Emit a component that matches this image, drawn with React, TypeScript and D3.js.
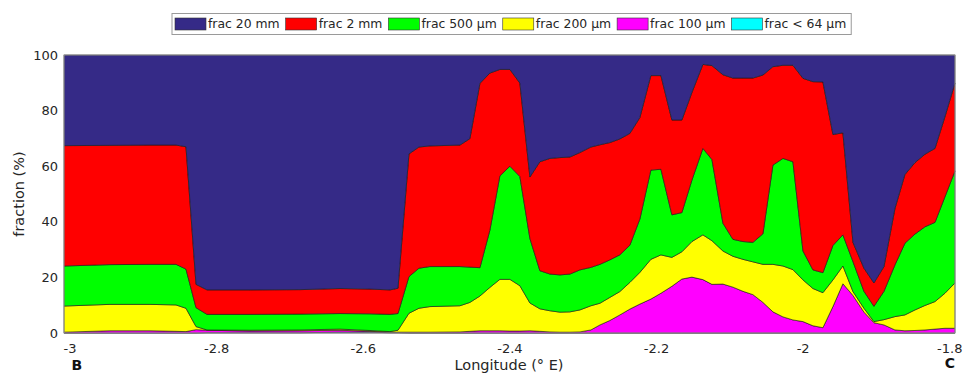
import React, { useEffect, useRef } from 'react';
import * as d3 from 'd3';

// longitude of each sample along the B-C section (deg E)
const longitude = [
  -3.0083, -2.9456, -2.8910, -2.8555, -2.8419, -2.8282, -2.8132, -2.7546, -2.6864, -2.6318,
  -2.5909, -2.5636, -2.5527, -2.5377, -2.5241, -2.5091, -2.4682, -2.4546, -2.4409, -2.4273,
  -2.4137, -2.4000, -2.3864, -2.3727, -2.3591, -2.3454, -2.3318, -2.3182, -2.3045, -2.2895,
  -2.2772, -2.2636, -2.2500, -2.2363, -2.2227, -2.2077, -2.1940, -2.1790, -2.1654, -2.1517,
  -2.1367, -2.1244, -2.1094, -2.0958, -2.0821, -2.0685, -2.0548, -2.0412, -2.0275, -2.0139,
  -2.0002, -1.9866, -1.9730, -1.9593, -1.9457, -1.9320, -1.9170, -1.9034, -1.8897, -1.8747,
  -1.8611, -1.8474, -1.8338, -1.8201, -1.8065, -1.7928
];

// fractions in %
const frac64 = [
  0, 0, 0, 0, 0, 0, 0.1, 0.1, 0.1, 0.3,
  0.3, 0.1, 0.1, 0, 0, 0, 0, 0, 0, 0,
  0, 0, 0, 0, 0, 0, 0, 0, 0, 0,
  0, 0, 0, 0, 0, 0, 0, 0, 0, 0,
  0, 0, 0, 0, 0, 0, 0, 0, 0, 0,
  0, 0, 0, 0, 0, 0, 0, 0, 0, 0,
  0, 0, 0, 0, 0, 0
];
const frac100 = [
  0.3, 0.8, 0.8, 0.6, 0.5, 1.2, 0.9, 0.6, 0.7, 0.7,
  0.3, 0.2, 0.2, 0.3, 0.3, 0.3, 0.4, 0.6, 0.8, 0.8,
  0.8, 0.7, 0.7, 0.8, 0.6, 0.4, 0.3, 0.3, 0.4, 1.1,
  2.9, 4.5, 6.5, 8.6, 10.4, 12.2, 14.3, 16.8, 19.4, 20.1,
  19.2, 17.5, 17.6, 16.5, 15.0, 13.8, 11.0, 7.6, 5.8, 4.7,
  4.1, 2.6, 1.9, 9.5, 17.7, 13.5, 7.5, 3.7, 2.9, 1.1,
  0.8, 0.9, 1.1, 1.4, 1.7, 1.7
];
const frac200 = [
  9.4, 9.5, 9.5, 9.5, 8.4, 1.1, 0.1, 0.3, 0.3, 0.4,
  0.3, 0.2, 0.7, 6.8, 8.6, 9.2, 9.4, 10.4, 12.5, 15.6,
  18.5, 18.6, 16.3, 10.0, 8.1, 7.6, 7.2, 7.3, 7.9, 8.7,
  7.8, 8.3, 8.4, 9.6, 11.4, 14.3, 13.8, 10.4, 9.8, 12.8,
  16.1, 15.7, 11.9, 11.1, 11.5, 11.8, 13.7, 17.1, 18.3, 18.1,
  15.0, 13.4, 12.6, 9.6, 6.4, 1.4, 1.4, 0.4, 1.9, 4.8,
  5.7, 7.4, 8.8, 9.9, 12.6, 16.3
];
const frac500 = [
  14.4, 14.3, 14.4, 14.6, 14.1, 6.8, 5.6, 5.7, 5.7, 5.6,
  6.0, 6.2, 6.0, 13.2, 14.4, 14.4, 14.1, 12.7, 10.2, 20.6,
  37.2, 40.7, 39.3, 23.2, 13.7, 13.2, 13.4, 13.6, 14.4, 13.8,
  14.0, 13.5, 13.2, 13.4, 19.2, 32.1, 30.8, 15.3, 14.1, 22.1,
  31.1, 29.2, 10.0, 6.1, 6.4, 7.0, 11.0, 35.7, 38.7, 38.8,
  10.4, 6.7, 7.2, 12.4, 11.2, 10.8, 6.1, 5.5, 10.2, 18.6,
  25.8, 27.3, 28.3, 28.5, 34.7, 40.3
];
const frac2mm = [
  43.3, 42.9, 42.9, 42.9, 44.0, 8.4, 8.8, 8.8, 8.8, 9.0,
  8.9, 8.8, 9.1, 44.1, 43.6, 43.4, 43.7, 46.2, 66.3, 56.5,
  38.3, 34.8, 33.6, 22.1, 39.2, 41.6, 42.2, 42.1, 42.2, 43.3,
  43.0, 42.2, 41.7, 40.2, 36.5, 34.0, 33.7, 34.1, 33.3, 31.5,
  30.2, 33.8, 53.4, 58.0, 58.8, 59.1, 57.1, 35.4, 33.5, 34.7,
  62.1, 67.7, 68.6, 39.9, 36.7, 6.9, 8.3, 8.4, 8.9, 20.3,
  24.7, 25.7, 26.1, 26.6, 28.8, 31.6
];
const frac20mm = [
  32.6, 32.5, 32.4, 32.4, 33.0, 82.5, 84.5, 84.5, 84.4, 84.0,
  84.2, 84.5, 83.9, 35.6, 33.1, 32.7, 32.4, 30.1, 10.2, 6.5,
  5.2, 5.2, 10.1, 43.9, 38.4, 37.2, 36.9, 36.7, 35.1, 33.1,
  32.3, 31.5, 30.2, 28.2, 22.5, 7.4, 7.4, 23.4, 23.4, 13.5,
  3.4, 3.8, 7.1, 8.3, 8.3, 8.3, 7.2, 4.2, 3.7, 3.7,
  8.4, 9.6, 9.7, 28.6, 28.0, 67.4, 76.7, 82.0, 76.1, 55.2,
  43.0, 38.7, 35.7, 33.6, 22.2, 10.1
];

// stacking order bottom -> top
const seriesKeys = ['f64', 'f100', 'f200', 'f500', 'f2mm', 'f20mm'];
const seriesNames = ['frac < 64 µm', 'frac 100 µm', 'frac 200 µm', 'frac 500 µm', 'frac 2 mm', 'frac 20 mm'];
const seriesColors = ['#00ffff', '#ff00ff', '#ffff00', '#00ff00', '#ff0000', '#352a87'];

const xTicks = [-3, -2.8, -2.6, -2.4, -2.2, -2, -1.8];
const yTicks = [0, 20, 40, 60, 80, 100];

const FONT = '"DejaVu Sans", sans-serif';
const TEXT = '#262626';

export default function App() {
  const svgRef = useRef<SVGSVGElement>(null);
  const width = 965;
  const height = 376;

  useEffect(() => {
    if (!svgRef.current) return;
    const svg = d3.select(svgRef.current);
    svg.selectAll('*').remove();

    const margin = { top: 55, right: 10, bottom: 43, left: 64 };
    const innerW = width - margin.left - margin.right;
    const innerH = height - margin.top - margin.bottom;

    const rows = longitude.map((lon, i) => ({
      lon,
      f64: frac64[i],
      f100: frac100[i],
      f200: frac200[i],
      f500: frac500[i],
      f2mm: frac2mm[i],
      f20mm: frac20mm[i]
    }));

    const x = d3.scaleLinear()
      .domain([longitude[0], longitude[longitude.length - 1]])
      .range([margin.left, margin.left + innerW]);
    const y = d3.scaleLinear()
      .domain([0, 100])
      .range([margin.top + innerH, margin.top]);

    const stacked = d3.stack<any>().keys(seriesKeys)(rows);

    const area = d3.area<any>()
      .x(d => x(d.data.lon))
      .y0(d => y(d[0]))
      .y1(d => y(d[1]));

    const plot = svg.append('g');
    plot.selectAll('path.layer')
      .data(stacked)
      .enter().append('path')
      .attr('class', 'layer')
      .attr('d', area)
      .attr('fill', (d, i) => seriesColors[i])
      .attr('stroke', '#1a1a1a')
      .attr('stroke-width', 0.6)
      .attr('stroke-linejoin', 'round');

    // axes box
    svg.append('rect')
      .attr('x', margin.left)
      .attr('y', margin.top)
      .attr('width', innerW)
      .attr('height', innerH)
      .attr('fill', 'none')
      .attr('stroke', '#9a9a9a')
      .attr('stroke-width', 1);

    // y tick labels
    svg.selectAll('text.ytick')
      .data(yTicks)
      .enter().append('text')
      .attr('class', 'ytick')
      .attr('x', margin.left - 6)
      .attr('y', d => y(d))
      .attr('dy', '0.36em')
      .attr('text-anchor', 'end')
      .attr('font-family', FONT)
      .attr('font-size', 13)
      .attr('fill', TEXT)
      .text(d => String(d));

    // x tick labels
    svg.selectAll('text.xtick')
      .data(xTicks)
      .enter().append('text')
      .attr('class', 'xtick')
      .attr('x', d => x(d))
      .attr('y', margin.top + innerH + 20)
      .attr('text-anchor', 'middle')
      .attr('font-family', FONT)
      .attr('font-size', 13)
      .attr('fill', TEXT)
      .text(d => String(d));

    // axis titles
    svg.append('text')
      .attr('x', 509)
      .attr('y', 370)
      .attr('text-anchor', 'middle')
      .attr('font-family', FONT)
      .attr('font-size', 14.5)
      .attr('fill', TEXT)
      .text('Longitude (° E)');

    svg.append('text')
      .attr('transform', `translate(24,${y(50)}) rotate(-90)`)
      .attr('text-anchor', 'middle')
      .attr('font-family', FONT)
      .attr('font-size', 14.5)
      .attr('fill', TEXT)
      .text('fraction (%)');

    // section end labels
    svg.append('text')
      .attr('x', 71.5)
      .attr('y', 370)
      .attr('font-family', FONT)
      .attr('font-weight', 'bold')
      .attr('font-size', 14)
      .attr('fill', '#111')
      .text('B');
    svg.append('text')
      .attr('x', 955)
      .attr('y', 368)
      .attr('text-anchor', 'end')
      .attr('font-family', FONT)
      .attr('font-weight', 'bold')
      .attr('font-size', 14)
      .attr('fill', '#111')
      .text('C');

    // legend (top -> bottom order, left to right)
    const legend = svg.append('g');
    const box = legend.append('rect')
      .attr('y', 13.5)
      .attr('height', 21)
      .attr('fill', '#fff')
      .attr('stroke', '#9a9a9a')
      .attr('stroke-width', 1);

    const legendStart = 172;
    let cx = legendStart + 3;
    const order = d3.range(seriesKeys.length).reverse();
    order.forEach(i => {
      legend.append('rect')
        .attr('x', cx)
        .attr('y', 18)
        .attr('width', 31)
        .attr('height', 12)
        .attr('fill', seriesColors[i])
        .attr('stroke', '#333')
        .attr('stroke-width', 0.6);
      const t = legend.append('text')
        .attr('x', cx + 33)
        .attr('y', 24)
        .attr('dy', '0.36em')
        .attr('font-family', FONT)
        .attr('font-size', 12.4)
        .attr('fill', TEXT)
        .text(seriesNames[i]);
      const w = (t.node() as SVGTextElement).getComputedTextLength();
      cx = cx + 33 + w + 6;
    });
    box.attr('x', legendStart).attr('width', cx - legendStart - 1);
  }, []);

  return (
    <svg
      ref={svgRef}
      width={width}
      height={height}
      style={{ position: 'absolute', left: 0, top: 0, background: '#fff' }}
    />
  );
}
